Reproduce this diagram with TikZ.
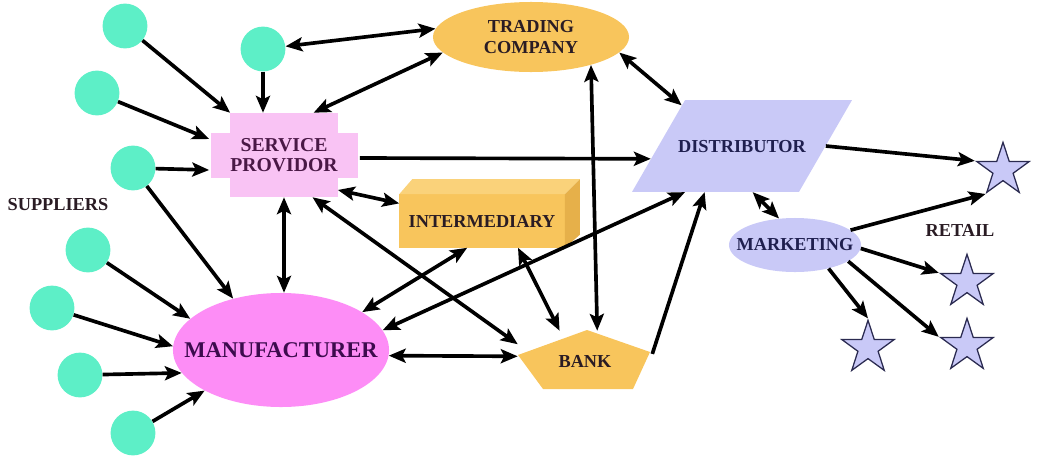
\documentclass[tikz,border=0pt]{standalone}
\usepackage{fontspec}
\setmainfont{Liberation Serif}
\usepackage{tikz}
\usetikzlibrary{
    arrows.meta,
    shapes,
    shapes.geometric,
    calc,
    positioning
}
\definecolor{supply}{HTML}{5DEFC7}
\definecolor{service}{HTML}{F9C3F4}
\definecolor{manucol}{HTML}{FD8DF6}
\definecolor{trade}{HTML}{F8C55C}
\definecolor{tradetop}{HTML}{FAD27A}
\definecolor{tradeside}{HTML}{E6B04A}
\definecolor{lilac}{HTML}{C9C9F7}
\definecolor{ink}{HTML}{2A1C24}
\definecolor{spink}{HTML}{4A1846}
\definecolor{manuink}{HTML}{3D0B4E}
\definecolor{navyink}{HTML}{1F1F4F}
\definecolor{starline}{HTML}{2A2A50}

\begin{document}
\begin{tikzpicture}[x=0.025cm, y=-0.025cm,
        tag/.style={font=\fontsize{13}{15}\selectfont\bfseries, text=ink, align=center},
        supplier/.style={circle, fill=supply, minimum size=1.12cm, inner sep=0pt},
        shop/.style={star, star points=5, star point ratio=2.6, fill=lilac, draw=starline,
            line width=0.9pt, minimum size=1.38cm, inner sep=0pt},
        link/.style={line width=2.6pt, -{Stealth[length=12pt,width=10pt,inset=2.5pt]}},
        twoway/.style={line width=2.6pt,
            {Stealth[length=12pt,width=10pt,inset=2.5pt]}-{Stealth[length=12pt,width=10pt,inset=2.5pt]}}]
    \useasboundingbox (0,0) rectangle (1037,460);

    \node[supplier] (sup1) at (125,26) {};
    \node[supplier] (sup2) at (97,93) {};
    \node[supplier] (sup3) at (133,168) {};
    \node[supplier] (sup4) at (88,250) {};
    \node[supplier] (sup5) at (52,308) {};
    \node[supplier] (sup6) at (80,375) {};
    \node[supplier] (sup7) at (133,433) {};
    \node[supplier] (sup8) at (263,49) {};
    \node[tag] (suppliers) at (58,205) {SUPPLIERS};

    \fill[service] (211,133) rectangle (358,178);
    \node[tag, fill=service, text=spink, minimum width=2.6cm, minimum height=2.1cm, inner sep=0pt,
        font=\fontsize{14}{14}\selectfont\bfseries] (sp) at (284,155) {SERVICE\\PROVIDOR};

    \node[tag, fill=trade, ellipse, minimum width=4.9cm, minimum height=1.75cm, inner sep=0pt]
        (tc) at (531,37) {TRADING\\COMPANY};

    \node[tag, fill=trade, minimum width=4.125cm, minimum height=1.325cm, inner sep=0pt]
        (inter) at (482,221) {INTERMEDIARY};
    \fill[tradetop] (inter.north west) -- ++(13,-15) -- ($(inter.north east)+(15,-15)$)
        -- (inter.north east) -- cycle;
    \fill[tradeside] (inter.north east) -- ++(15,-15) -- ($(inter.south east)+(15,-13)$)
        -- (inter.south east) -- cycle;

    \node[tag, fill=manucol, ellipse, minimum width=5.4cm, minimum height=2.85cm, inner sep=0pt,
        text=manuink, font=\fontsize{16}{18}\selectfont\bfseries] (manu) at (281,350) {\makebox[0pt]{MANUFACTURER}};

    \fill[trade] (587,330) -- (650,352) -- (633,389) -- (543,389) -- (518,355) -- cycle;
    \node[tag, minimum width=3.35cm, minimum height=1.5cm] (bank) at (585,361) {BANK};

    \node[tag, fill=lilac, text=navyink, trapezium, trapezium left angle=60, trapezium right angle=120,
        text height=8.6pt, text depth=0pt, inner xsep=1.425cm, inner ysep=28.3pt]
        (dist) at (742,146) {\makebox[0pt]{DISTRIBUTOR}};

    \node[tag, fill=lilac, text=navyink, ellipse, minimum width=3.3cm, minimum height=1.35cm, inner sep=0pt]
        (mark) at (795,245) {\makebox[0pt]{MARKETING}};

    \node[shop] (shop1) at (1003,170) {};
    \node[shop] (shop2) at (967,282) {};
    \node[shop] (shop3) at (967,346) {};
    \node[shop] (shop4) at (868,348) {};
    \node[tag] (retail) at (960,230) {RETAIL};

    \draw[link] (sup1) -- (sp.north west);
    \draw[link] (sup2) -- ($(sp.west)+(-21,-16)$);
    \draw[link] (sup3) -- ($(sp.west)+(-21,15)$);
    \draw[link] (sup8) -- (sup8 |- sp.north);
    \draw[link] (sup3) -- (manu.133);
    \draw[link] (sup4) -- (manu.161);
    \draw[link] (sup5) -- (manu.178);
    \draw[link] (sup6) -- (manu.193);
    \draw[link] (sup7) -- (manu.208);

    \draw[twoway] (sup8) -- (tc.175);
    \draw[twoway] (sp.55) -- (tc.190);
    \draw[link] ($(sp.east)+(22,3)$) -- (dist.188);
    \draw[twoway] (sp.327) -- (inter.168);
    \draw[twoway] (sp.south) -- (sp.south |- manu.north);
    \draw[twoway] (sp.304) -- (bank.166);
    \draw[twoway] (manu.25) -- (inter.241);
    \draw[twoway] (manu.11) -- (dist.219);
    \draw[twoway] (manu.357) -- (bank.176);
    \draw[twoway] ($(inter.south)+(36,0)$) -- (bank.130);
    \draw[twoway] (tc.335) -- (bank.68);
    \draw[twoway] (tc.350) -- (dist.146);
    \draw[link] (bank.6) -- (dist.231);

    \draw[link] (dist.east) -- (shop1.outer point 2);
    \draw[twoway] (dist.283) -- (mark.121);
    \draw[link] (mark.15) -- (shop1.outer point 3);
    \draw[link] (mark.357) -- (shop2.outer point 2);
    \draw[link] (mark.343) -- (shop3.outer point 2);
    \draw[link] (mark.325) -- (shop4.outer point 1);
\end{tikzpicture}
\end{document}
